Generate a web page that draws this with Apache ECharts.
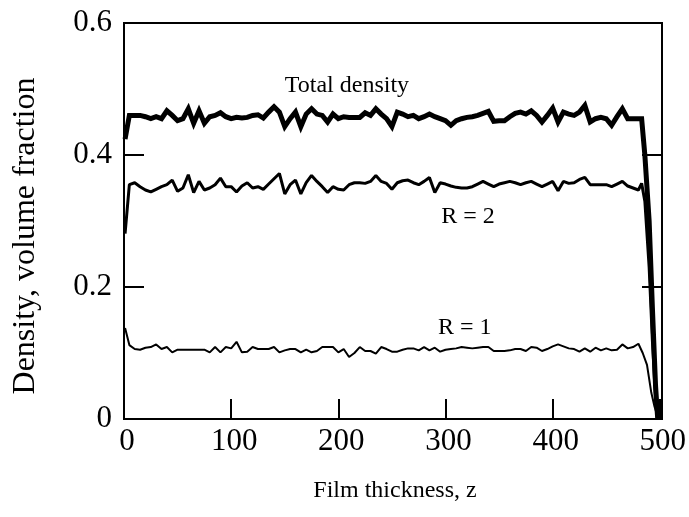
<!DOCTYPE html>
<html>
<head>
<meta charset="utf-8">
<script src="https://cdn.jsdelivr.net/npm/echarts@6/dist/echarts.min.js"></script>
<style>html,body{margin:0;padding:0;background:#fff}#c{width:689px;height:517px}</style>
</head>
<body>
<div id="c"></div>
<script>
// Film thickness positions (bulk region)
const zBulk = [1,5,10,15,20,25,30,35,40,45,50,55,60,65,70,75,80,85,90,95,
100,105,110,115,120,125,130,135,140,145,150,155,160,165,170,175,180,185,190,195,
200,205,210,215,220,225,230,235,240,245,250,255,260,265,270,275,280,285,290,295,
300,305,310,315,320,325,330,335,340,345,350,355,360,365,370,375,380,385,390,395,
400,405,410,415,420,425,430,435,440,445,450,455,460,465,470,475,480];

const totalBulk = [0.424,0.46,0.46,0.46,0.458,0.455,0.458,0.455,0.467,0.46,0.452,0.455,0.47,0.448,0.467,0.448,0.458,0.46,0.464,0.458,
0.455,0.457,0.456,0.457,0.46,0.461,0.456,0.465,0.473,0.465,0.443,0.455,0.465,0.443,0.462,0.47,0.462,0.46,0.45,0.462,
0.455,0.458,0.457,0.457,0.457,0.464,0.46,0.47,0.462,0.455,0.443,0.465,0.462,0.458,0.46,0.455,0.458,0.462,0.458,0.455,
0.452,0.445,0.452,0.455,0.457,0.458,0.46,0.463,0.466,0.451,0.452,0.452,0.458,0.463,0.465,0.462,0.467,0.46,0.45,0.46,
0.471,0.45,0.465,0.462,0.46,0.465,0.475,0.45,0.455,0.457,0.455,0.445,0.458,0.47,0.455,0.455,0.455];
const totalTailZ = [483,486,490,493,496,498];
const totalTail  = [0.455,0.40,0.30,0.17,0.05,0.0];

const r2Bulk = [0.281,0.355,0.358,0.352,0.347,0.344,0.348,0.352,0.355,0.362,0.345,0.35,0.37,0.343,0.36,0.347,0.35,0.355,0.365,0.352,
0.352,0.344,0.353,0.358,0.35,0.352,0.348,0.356,0.364,0.372,0.341,0.355,0.362,0.341,0.358,0.369,0.36,0.352,0.343,0.352,
0.348,0.347,0.355,0.358,0.358,0.357,0.36,0.369,0.36,0.357,0.348,0.358,0.361,0.362,0.358,0.355,0.36,0.366,0.343,0.358,
0.356,0.353,0.351,0.35,0.35,0.352,0.356,0.36,0.356,0.352,0.356,0.358,0.36,0.358,0.355,0.358,0.36,0.356,0.352,0.356,
0.36,0.346,0.36,0.357,0.358,0.363,0.366,0.355,0.355,0.355,0.355,0.352,0.356,0.36,0.353,0.35,0.347];
const r2TailZ = [483,486,490,493,496,498];
const r2Tail  = [0.357,0.33,0.23,0.12,0.03,0.0];

const r1Bulk = [0.138,0.112,0.106,0.105,0.108,0.109,0.113,0.106,0.109,0.101,0.105,0.105,0.105,0.105,0.105,0.105,0.101,0.109,0.101,0.109,
0.107,0.117,0.101,0.102,0.109,0.106,0.106,0.106,0.109,0.101,0.104,0.106,0.106,0.101,0.105,0.101,0.103,0.109,0.109,0.109,
0.101,0.106,0.094,0.1,0.109,0.103,0.103,0.099,0.109,0.106,0.102,0.102,0.105,0.107,0.107,0.104,0.109,0.104,0.108,0.102,
0.105,0.106,0.107,0.109,0.108,0.107,0.108,0.109,0.109,0.103,0.103,0.103,0.104,0.106,0.106,0.103,0.109,0.108,0.103,0.106,
0.11,0.113,0.11,0.107,0.106,0.102,0.107,0.102,0.108,0.104,0.107,0.104,0.105,0.113,0.107,0.109,0.114];
const r1TailZ = [484,488,492,495,498];
const r1Tail  = [0.1,0.082,0.04,0.019,0.003];

const yTicks = [0, 0.2, 0.4, 0.6];
const yTickText = ['0', '0.2', '0.4', '0.6'];
const xTicks = [0, 100, 200, 300, 400, 500];
const xTitle = 'Film thickness, z';
const yTitle = 'Density, volume fraction';

// annotation labels in data coordinates
const annoText = ['Total density', 'R = 2', 'R = 1'];
const annoZ = [208, 321, 318];
const annoV = [0.505, 0.306, 0.139];

function pairs(zs, vs) { return zs.map((z, i) => [z, vs[i]]); }

const FONT = "'Liberation Serif', 'Times New Roman', serif";
const chart = echarts.init(document.getElementById('c'), null, {renderer: 'canvas'});

const axisLine = {show: true, lineStyle: {color: '#000', width: 2}};
const tick = {show: true, inside: true, length: 20, lineStyle: {color: '#000', width: 2}};
chart.setOption({
  animation: false,
  backgroundColor: '#fff',
  grid: {left: 124, right: 27, top: 23, bottom: 98, show: true, borderColor: '#000', borderWidth: 2},
  xAxis: [{
    type: 'value', min: 0, max: 502, interval: 100,
    axisLine: axisLine, axisTick: tick,
    axisLabel: {show: false}, splitLine: {show: false}
  }],
  yAxis: [{
    type: 'value', min: 0, max: 0.6, interval: 0.2,
    axisLine: axisLine, axisTick: tick,
    axisLabel: {show: false}, splitLine: {show: false}
  }, {
    type: 'value', min: 0, max: 0.6, interval: 0.2, position: 'right',
    axisLine: axisLine, axisTick: tick,
    axisLabel: {show: false}, splitLine: {show: false}
  }],
  series: [{
    type: 'line', name: 'Total density', showSymbol: false, symbol: 'none',
    data: pairs(zBulk.concat(totalTailZ), totalBulk.concat(totalTail)),
    lineStyle: {color: '#000', width: 5, join: 'miter'}
  }, {
    type: 'line', name: 'R = 2', showSymbol: false, symbol: 'none',
    data: pairs(zBulk.concat(r2TailZ), r2Bulk.concat(r2Tail)),
    lineStyle: {color: '#000', width: 3}
  }, {
    type: 'line', name: 'R = 1', showSymbol: false, symbol: 'none',
    data: pairs(zBulk.concat(r1TailZ), r1Bulk.concat(r1Tail)),
    lineStyle: {color: '#000', width: 2}
  }]
});

// Text placed through the chart's own scales.
function txt(text, x, y, size, align, opts) {
  return Object.assign({
    type: 'text', x: x, y: y, silent: true,
    style: {text: text, fill: '#000', fontFamily: FONT, fontSize: size,
      align: align, verticalAlign: 'middle', textAlign: align, textVerticalAlign: 'middle'}
  }, opts || {});
}
const g = [];
const axisLeftX = chart.convertToPixel({xAxisIndex: 0}, 0);
const axisBottomY = chart.convertToPixel({yAxisIndex: 0}, 0);
yTicks.forEach((v, i) => {
  g.push(txt(yTickText[i], axisLeftX - 12, chart.convertToPixel({yAxisIndex: 0}, v), 31, 'right'));
});
xTicks.forEach(v => {
  g.push(txt(String(v), chart.convertToPixel({xAxisIndex: 0}, v) + 3, axisBottomY + 23, 31, 'center'));
});
annoText.forEach((t, i) => {
  const p = chart.convertToPixel({xAxisIndex: 0, yAxisIndex: 0}, [annoZ[i], annoV[i]]);
  g.push(txt(t, p[0], p[1], 24, 'center'));
});
g.push(txt(xTitle, 395, axisBottomY + 72, 24, 'center'));
g.push(txt(yTitle, 26, 236, 32, 'center', {rotation: Math.PI / 2}));
chart.setOption({graphic: g});
</script>
</body>
</html>
